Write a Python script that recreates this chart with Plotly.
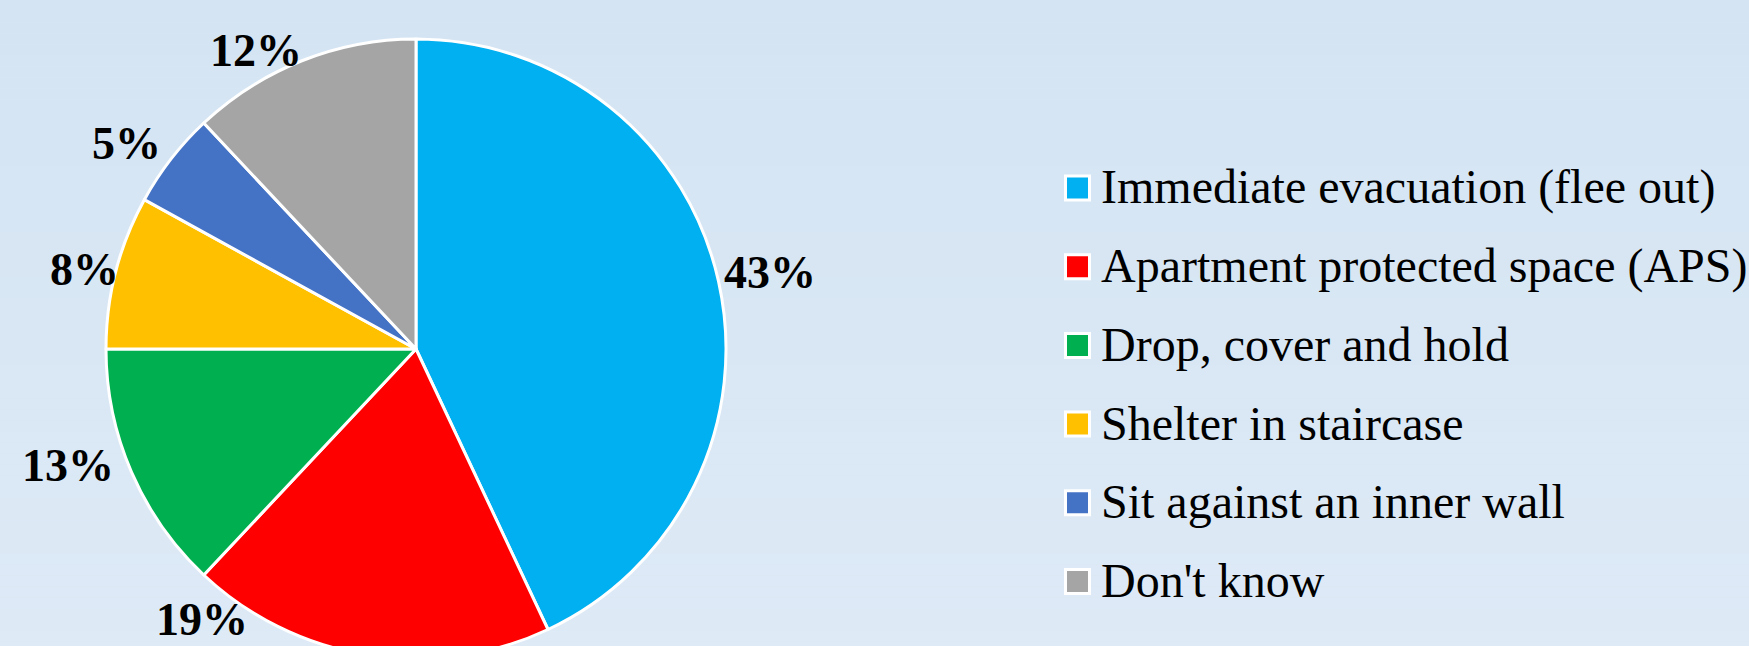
import plotly.graph_objects as go

# ---- data ----
categories = [
    "Immediate evacuation (flee out)",
    "Apartment protected space (APS)",
    "Drop, cover and hold",
    "Shelter in staircase",
    "Sit against an inner wall",
    "Don't know",
]
values = [43, 19, 13, 8, 5, 12]
colors = ["#00B0F0", "#FF0000", "#00B050", "#FFC000", "#4472C4", "#A5A5A5"]

# ---- layout geometry (pixels) ----
W, H = 1749, 664
pie_left, pie_right, pie_top, pie_bottom = 106, 726, 39, 659
# data-label centre positions (px from top-left), one per category
label_pos = [(770, 272), (202, 619), (68, 466), (84, 270), (126, 143), (256, 51)]
legend_x_sq, legend_x_txt, legend_y0, legend_dy = 1077.5, 1099, 188, 78.7
sq = 24

def px(x):
    return x / W

def py(y):
    return 1 - y / H

fig = go.Figure()
fig.add_trace(go.Pie(
    labels=categories,
    values=values,
    sort=False,
    direction="clockwise",
    rotation=0,
    marker=dict(colors=colors, line=dict(color="white", width=3)),
    textinfo="none",
    hoverinfo="label+percent",
    showlegend=False,
    domain=dict(x=[px(pie_left), px(pie_right)], y=[py(pie_bottom), py(pie_top)]),
))

total = sum(values)
annotations = []
shapes = []

# background gradient (top -> bottom)
top_rgb = (212, 228, 243)
bot_rgb = (222, 234, 246)
nb = 60
for i in range(nb):
    t = i / (nb - 1)
    c = tuple(round(top_rgb[k] + (bot_rgb[k] - top_rgb[k]) * t) for k in range(3))
    shapes.append(dict(type="rect", xref="paper", yref="paper", x0=0, x1=1,
                       y0=1 - (i + 1) / nb, y1=1 - i / nb,
                       fillcolor="rgb(%d,%d,%d)" % c, line=dict(width=0), layer="below"))

# percentage labels
for v, (lx, ly) in zip(values, label_pos):
    annotations.append(dict(
        x=px(lx), y=py(ly), xref="paper", yref="paper",
        text="%d%%" % round(100 * v / total), showarrow=False,
        xanchor="center", yanchor="middle",
        font=dict(family="Liberation Serif, Times New Roman, serif", size=46,
                  color="black", weight="bold"),
    ))

# legend (manual, to match row spacing)
for i, (cat, col) in enumerate(zip(categories, colors)):
    cy = legend_y0 + i * legend_dy
    shapes.append(dict(type="rect", xref="paper", yref="paper",
                       x0=px(legend_x_sq - sq / 2), x1=px(legend_x_sq + sq / 2),
                       y0=py(cy + sq / 2), y1=py(cy - sq / 2),
                       fillcolor=col, line=dict(color="white", width=3)))
    annotations.append(dict(
        x=px(legend_x_txt), y=py(cy - 1), xref="paper", yref="paper",
        text=cat, showarrow=False, xanchor="left", yanchor="middle",
        font=dict(family="Liberation Serif, Times New Roman, serif", size=48, color="black"),
    ))

fig.update_layout(
    width=W, height=H,
    margin=dict(l=0, r=0, t=0, b=0),
    paper_bgcolor="#D8E7F5",
    plot_bgcolor="rgba(0,0,0,0)",
    shapes=shapes,
    annotations=annotations,
)

fig.write_html(
    "out.html",
    post_script="document.body.style.margin='0';document.body.style.overflow='hidden';"
                "document.documentElement.style.overflow='hidden';",
)
